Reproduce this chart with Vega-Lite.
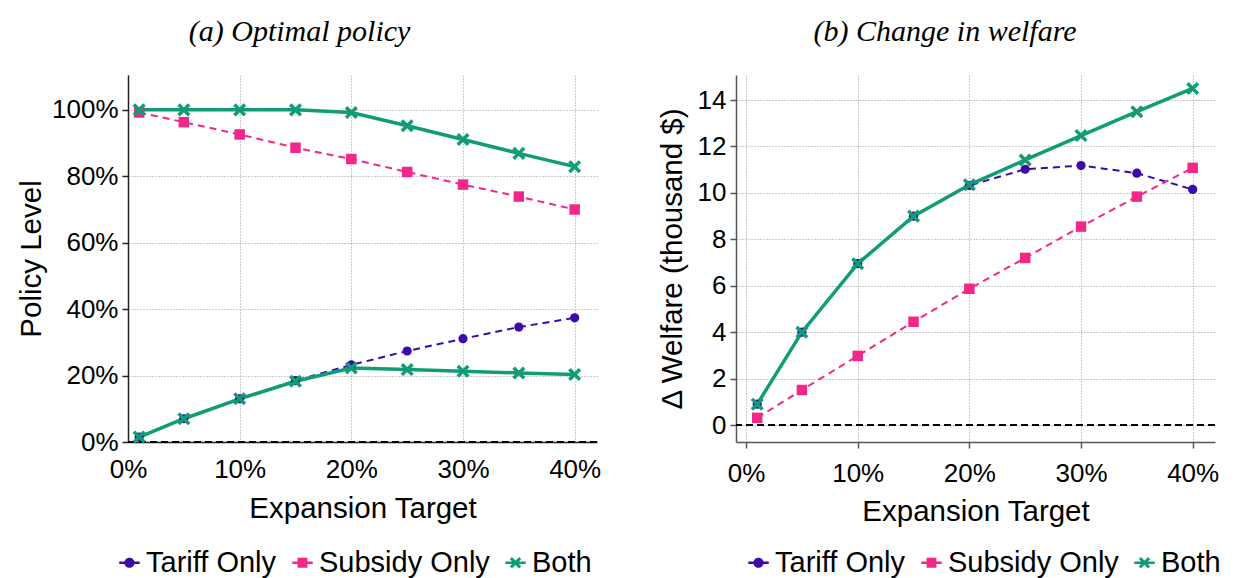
{
  "$schema": "https://vega.github.io/schema/vega-lite/v6.json",
  "background": "white",
  "padding": {"left": 16, "top": 17, "right": 5, "bottom": 5},
  "spacing": 56,
  "datasets": {
    "policy": [
      {"x": 0.01, "y": 0.015, "series": "Tariff Only", "comp": "t"},
      {"x": 0.05, "y": 0.07, "series": "Tariff Only", "comp": "t"},
      {"x": 0.10, "y": 0.13, "series": "Tariff Only", "comp": "t"},
      {"x": 0.15, "y": 0.185, "series": "Tariff Only", "comp": "t"},
      {"x": 0.20, "y": 0.232, "series": "Tariff Only", "comp": "t"},
      {"x": 0.25, "y": 0.274, "series": "Tariff Only", "comp": "t"},
      {"x": 0.30, "y": 0.311, "series": "Tariff Only", "comp": "t"},
      {"x": 0.35, "y": 0.346, "series": "Tariff Only", "comp": "t"},
      {"x": 0.40, "y": 0.374, "series": "Tariff Only", "comp": "t"},
      {"x": 0.01, "y": 0.992, "series": "Subsidy Only", "comp": "s"},
      {"x": 0.05, "y": 0.963, "series": "Subsidy Only", "comp": "s"},
      {"x": 0.10, "y": 0.926, "series": "Subsidy Only", "comp": "s"},
      {"x": 0.15, "y": 0.886, "series": "Subsidy Only", "comp": "s"},
      {"x": 0.20, "y": 0.852, "series": "Subsidy Only", "comp": "s"},
      {"x": 0.25, "y": 0.813, "series": "Subsidy Only", "comp": "s"},
      {"x": 0.30, "y": 0.775, "series": "Subsidy Only", "comp": "s"},
      {"x": 0.35, "y": 0.739, "series": "Subsidy Only", "comp": "s"},
      {"x": 0.40, "y": 0.700, "series": "Subsidy Only", "comp": "s"},
      {"x": 0.01, "y": 1.0, "series": "Both", "comp": "s"},
      {"x": 0.05, "y": 1.0, "series": "Both", "comp": "s"},
      {"x": 0.10, "y": 1.0, "series": "Both", "comp": "s"},
      {"x": 0.15, "y": 1.0, "series": "Both", "comp": "s"},
      {"x": 0.20, "y": 0.992, "series": "Both", "comp": "s"},
      {"x": 0.25, "y": 0.952, "series": "Both", "comp": "s"},
      {"x": 0.30, "y": 0.911, "series": "Both", "comp": "s"},
      {"x": 0.35, "y": 0.869, "series": "Both", "comp": "s"},
      {"x": 0.40, "y": 0.829, "series": "Both", "comp": "s"},
      {"x": 0.01, "y": 0.015, "series": "Both", "comp": "t"},
      {"x": 0.05, "y": 0.07, "series": "Both", "comp": "t"},
      {"x": 0.10, "y": 0.13, "series": "Both", "comp": "t"},
      {"x": 0.15, "y": 0.183, "series": "Both", "comp": "t"},
      {"x": 0.20, "y": 0.223, "series": "Both", "comp": "t"},
      {"x": 0.25, "y": 0.218, "series": "Both", "comp": "t"},
      {"x": 0.30, "y": 0.213, "series": "Both", "comp": "t"},
      {"x": 0.35, "y": 0.208, "series": "Both", "comp": "t"},
      {"x": 0.40, "y": 0.203, "series": "Both", "comp": "t"}
    ],
    "welfare": [
      {"x": 0.01, "y": 0.9, "series": "Tariff Only", "comp": "w"},
      {"x": 0.05, "y": 4.0, "series": "Tariff Only", "comp": "w"},
      {"x": 0.10, "y": 6.95, "series": "Tariff Only", "comp": "w"},
      {"x": 0.15, "y": 9.0, "series": "Tariff Only", "comp": "w"},
      {"x": 0.20, "y": 10.32, "series": "Tariff Only", "comp": "w"},
      {"x": 0.25, "y": 11.02, "series": "Tariff Only", "comp": "w"},
      {"x": 0.30, "y": 11.18, "series": "Tariff Only", "comp": "w"},
      {"x": 0.35, "y": 10.85, "series": "Tariff Only", "comp": "w"},
      {"x": 0.40, "y": 10.15, "series": "Tariff Only", "comp": "w"},
      {"x": 0.01, "y": 0.31, "series": "Subsidy Only", "comp": "w"},
      {"x": 0.05, "y": 1.51, "series": "Subsidy Only", "comp": "w"},
      {"x": 0.10, "y": 2.98, "series": "Subsidy Only", "comp": "w"},
      {"x": 0.15, "y": 4.45, "series": "Subsidy Only", "comp": "w"},
      {"x": 0.20, "y": 5.87, "series": "Subsidy Only", "comp": "w"},
      {"x": 0.25, "y": 7.2, "series": "Subsidy Only", "comp": "w"},
      {"x": 0.30, "y": 8.55, "series": "Subsidy Only", "comp": "w"},
      {"x": 0.35, "y": 9.84, "series": "Subsidy Only", "comp": "w"},
      {"x": 0.40, "y": 11.08, "series": "Subsidy Only", "comp": "w"},
      {"x": 0.01, "y": 0.9, "series": "Both", "comp": "w"},
      {"x": 0.05, "y": 4.0, "series": "Both", "comp": "w"},
      {"x": 0.10, "y": 6.95, "series": "Both", "comp": "w"},
      {"x": 0.15, "y": 9.0, "series": "Both", "comp": "w"},
      {"x": 0.20, "y": 10.35, "series": "Both", "comp": "w"},
      {"x": 0.25, "y": 11.42, "series": "Both", "comp": "w"},
      {"x": 0.30, "y": 12.47, "series": "Both", "comp": "w"},
      {"x": 0.35, "y": 13.5, "series": "Both", "comp": "w"},
      {"x": 0.40, "y": 14.5, "series": "Both", "comp": "w"}
    ],
    "zero": [{"z": 0}]
  },
  "hconcat": [
    {
      "width": 469,
      "height": 367,
      "title": {"text": "(a) Optimal policy", "frame": "bounds", "anchor": "middle", "dx": -9, "font": "Liberation Serif", "fontStyle": "italic", "fontWeight": "normal", "fontSize": 30, "color": "#000", "offset": 28},
      "layer": [
        {
          "data": {"name": "zero"},
          "mark": {"type": "rule", "color": "#000", "strokeWidth": 2, "strokeDash": [7, 4]},
          "encoding": {"y": {"field": "z", "type": "quantitative"}}
        },
        {
          "data": {"name": "policy"},
          "transform": [{"filter": "datum.series === 'Tariff Only'"}],
          "mark": {"type": "line", "strokeWidth": 2, "strokeDash": [7, 5], "color": "#3c0aa6"},
          "encoding": {
            "x": {"field": "x", "type": "quantitative", "scale": {"domain": [0, 0.42], "nice": false, "zero": false},
                  "axis": {"values": [0, 0.1, 0.2, 0.3, 0.4], "format": ".0%", "title": "Expansion Target", "tickSize": 0, "labelPadding": 14, "titlePadding": 12}},
            "y": {"field": "y", "type": "quantitative", "scale": {"domain": [0, 1.105], "nice": false},
                  "axis": {"values": [0, 0.2, 0.4, 0.6, 0.8, 1.0], "format": ".0%", "title": "Policy Level", "titlePadding": 5}}
          }
        },
        {
          "data": {"name": "policy"},
          "transform": [{"filter": "datum.series === 'Subsidy Only'"}],
          "mark": {"type": "line", "strokeWidth": 2, "strokeDash": [7, 5], "color": "#f22789"},
          "encoding": {
            "x": {"field": "x", "type": "quantitative"},
            "y": {"field": "y", "type": "quantitative"}
          }
        },
        {
          "data": {"name": "policy"},
          "transform": [{"filter": "datum.series === 'Both'"}],
          "mark": {"type": "line", "strokeWidth": 3.5, "color": "#109d76"},
          "encoding": {
            "x": {"field": "x", "type": "quantitative"},
            "y": {"field": "y", "type": "quantitative"},
            "detail": {"field": "comp"}
          }
        },
        {
          "data": {"name": "policy"},
          "transform": [{"filter": "datum.series === 'Tariff Only'"}],
          "mark": {"type": "point", "filled": true, "opacity": 1, "shape": "circle", "size": 85, "color": "#3c0aa6"},
          "encoding": {
            "x": {"field": "x", "type": "quantitative"},
            "y": {"field": "y", "type": "quantitative"}
          }
        },
        {
          "data": {"name": "policy"},
          "transform": [{"filter": "datum.series === 'Subsidy Only'"}],
          "mark": {"type": "point", "filled": true, "opacity": 1, "shape": "square", "size": 110, "color": "#f22789"},
          "encoding": {
            "x": {"field": "x", "type": "quantitative"},
            "y": {"field": "y", "type": "quantitative"}
          }
        },
        {
          "data": {"name": "policy"},
          "transform": [{"filter": "datum.series === 'Both'"}],
          "mark": {"type": "point", "filled": true, "opacity": 1, "shape": "M-0.62,-1L1,0.62L0.62,1L-1,-0.62ZM0.62,-1L1,-0.62L-0.62,1L-1,0.62Z", "size": 170, "color": "#109d76"},
          "encoding": {
            "x": {"field": "x", "type": "quantitative"},
            "y": {"field": "y", "type": "quantitative"}
          }
        },
        {
          "data": {"name": "policy"},
          "transform": [{"filter": "datum.x > 1"}],
          "mark": {"type": "point", "filled": true, "opacity": 1, "size": 420},
          "encoding": {
            "x": {"field": "x", "type": "quantitative"},
            "y": {"field": "y", "type": "quantitative"},
            "fill": {"field": "series", "type": "nominal", "scale": {"domain": ["Tariff Only", "Subsidy Only", "Both"], "range": ["#3c0aa6", "#f22789", "#109d76"]},
                     "legend": {"orient": "none", "legendX": -13, "legendY": 473, "direction": "horizontal", "title": null, "padding": 0, "labelFont": "Liberation Sans", "labelFontSize": 29, "labelColor": "#000", "labelLimit": 400, "symbolSize": 420, "symbolOpacity": 1, "symbolStrokeWidth": 0, "symbolOffset": 0, "columnPadding": 11, "labelOffset": 2}},
            "shape": {"field": "series", "type": "nominal", "scale": {"domain": ["Tariff Only", "Subsidy Only", "Both"], "range": [
              "M-1,-0.12H1V0.12H-1ZM-0.5,0A0.5,0.5 0 1,1 0.5,0A0.5,0.5 0 1,1 -0.5,0Z",
              "M-1,-0.12H1V0.12H-1ZM-0.48,-0.48H0.48V0.48H-0.48Z",
              "M-1,-0.12H1V0.12H-1ZM-0.35,-0.55L0.55,0.35L0.35,0.55L-0.55,-0.35ZM0.35,-0.55L0.55,-0.35L-0.35,0.55L-0.55,0.35Z"]}}
          }
        }
      ]
    },
    {
      "width": 479,
      "height": 367,
      "title": {"text": "(b) Change in welfare", "frame": "bounds", "anchor": "middle", "dx": 6, "font": "Liberation Serif", "fontStyle": "italic", "fontWeight": "normal", "fontSize": 30, "color": "#000", "offset": 28},
      "layer": [
        {
          "data": {"name": "zero"},
          "mark": {"type": "rule", "color": "#000", "strokeWidth": 2, "strokeDash": [7, 4]},
          "encoding": {"y": {"field": "z", "type": "quantitative"}}
        },
        {
          "data": {"name": "welfare"},
          "transform": [{"filter": "datum.series === 'Tariff Only'"}],
          "mark": {"type": "line", "strokeWidth": 2, "strokeDash": [7, 5], "color": "#3c0aa6"},
          "encoding": {
            "x": {"field": "x", "type": "quantitative", "scale": {"domain": [-0.009, 0.42], "nice": false, "zero": false},
                  "axis": {"values": [0, 0.1, 0.2, 0.3, 0.4], "format": ".0%", "title": "Expansion Target", "labelPadding": 12, "titlePadding": 11, "domainColor": "#555", "tickColor": "#555"}},
            "y": {"field": "y", "type": "quantitative", "scale": {"domain": [-0.73, 15.08], "nice": false, "zero": false},
                  "axis": {"values": [0, 2, 4, 6, 8, 10, 12, 14], "title": "Δ Welfare (thousand $)", "titlePadding": 10, "domainColor": "#555", "tickColor": "#555"}}
          }
        },
        {
          "data": {"name": "welfare"},
          "transform": [{"filter": "datum.series === 'Subsidy Only'"}],
          "mark": {"type": "line", "strokeWidth": 2, "strokeDash": [7, 5], "color": "#f22789"},
          "encoding": {
            "x": {"field": "x", "type": "quantitative"},
            "y": {"field": "y", "type": "quantitative"}
          }
        },
        {
          "data": {"name": "welfare"},
          "transform": [{"filter": "datum.series === 'Both'"}],
          "mark": {"type": "line", "strokeWidth": 3.5, "color": "#109d76"},
          "encoding": {
            "x": {"field": "x", "type": "quantitative"},
            "y": {"field": "y", "type": "quantitative"}
          }
        },
        {
          "data": {"name": "welfare"},
          "transform": [{"filter": "datum.series === 'Tariff Only'"}],
          "mark": {"type": "point", "filled": true, "opacity": 1, "shape": "circle", "size": 85, "color": "#3c0aa6"},
          "encoding": {
            "x": {"field": "x", "type": "quantitative"},
            "y": {"field": "y", "type": "quantitative"}
          }
        },
        {
          "data": {"name": "welfare"},
          "transform": [{"filter": "datum.series === 'Subsidy Only'"}],
          "mark": {"type": "point", "filled": true, "opacity": 1, "shape": "square", "size": 110, "color": "#f22789"},
          "encoding": {
            "x": {"field": "x", "type": "quantitative"},
            "y": {"field": "y", "type": "quantitative"}
          }
        },
        {
          "data": {"name": "welfare"},
          "transform": [{"filter": "datum.series === 'Both'"}],
          "mark": {"type": "point", "filled": true, "opacity": 1, "shape": "M-0.62,-1L1,0.62L0.62,1L-1,-0.62ZM0.62,-1L1,-0.62L-0.62,1L-1,0.62Z", "size": 170, "color": "#109d76"},
          "encoding": {
            "x": {"field": "x", "type": "quantitative"},
            "y": {"field": "y", "type": "quantitative"}
          }
        },
        {
          "data": {"name": "welfare"},
          "transform": [{"filter": "datum.x > 1"}],
          "mark": {"type": "point", "filled": true, "opacity": 1, "size": 420},
          "encoding": {
            "x": {"field": "x", "type": "quantitative"},
            "y": {"field": "y", "type": "quantitative"},
            "fill": {"field": "series", "type": "nominal", "scale": {"domain": ["Tariff Only", "Subsidy Only", "Both"], "range": ["#3c0aa6", "#f22789", "#109d76"]},
                     "legend": {"orient": "none", "legendX": 8, "legendY": 473, "direction": "horizontal", "title": null, "padding": 0, "labelFont": "Liberation Sans", "labelFontSize": 29, "labelColor": "#000", "labelLimit": 400, "symbolSize": 420, "symbolOpacity": 1, "symbolStrokeWidth": 0, "symbolOffset": 0, "columnPadding": 11, "labelOffset": 2}},
            "shape": {"field": "series", "type": "nominal", "scale": {"domain": ["Tariff Only", "Subsidy Only", "Both"], "range": [
              "M-1,-0.12H1V0.12H-1ZM-0.5,0A0.5,0.5 0 1,1 0.5,0A0.5,0.5 0 1,1 -0.5,0Z",
              "M-1,-0.12H1V0.12H-1ZM-0.48,-0.48H0.48V0.48H-0.48Z",
              "M-1,-0.12H1V0.12H-1ZM-0.35,-0.55L0.55,0.35L0.35,0.55L-0.55,-0.35ZM0.35,-0.55L0.55,-0.35L-0.35,0.55L-0.55,0.35Z"]}}
          }
        }
      ]
    }
  ],
  "resolve": {
    "scale": {"x": "independent", "y": "independent", "fill": "independent", "shape": "independent"},
    "legend": {"fill": "independent", "shape": "independent"}
  },
  "config": {
    "view": {"stroke": null},
    "axis": {"labelFont": "Liberation Sans", "labelFontSize": 26, "labelColor": "#000", "titleFont": "Liberation Sans", "titleFontSize": 29.5, "titleFontWeight": "normal", "titleColor": "#000", "domainColor": "#222", "domainWidth": 1.5, "tickColor": "#222", "tickWidth": 1.5, "tickSize": 6, "labelPadding": 4, "gridColor": "#999", "gridDash": [1, 2], "gridWidth": 1, "labelFlush": false, "labelOverlap": false}
  }
}
